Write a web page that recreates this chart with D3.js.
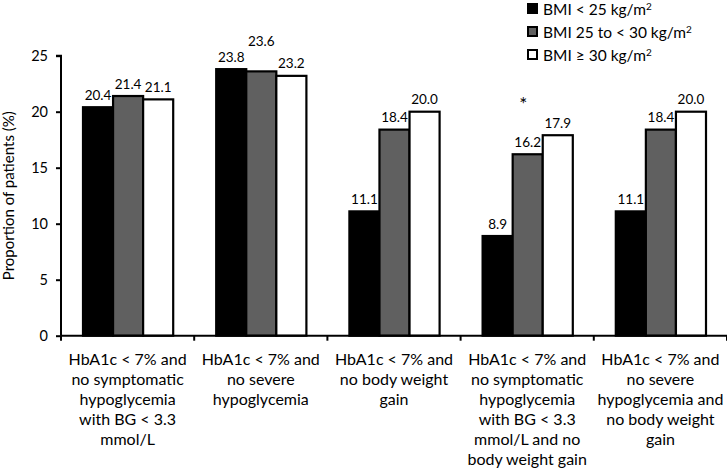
<!DOCTYPE html>
<html>
<head>
<meta charset="utf-8">
<script src="https://cdn.jsdelivr.net/npm/d3@7"></script>
<style>
  html, body { margin: 0; padding: 0; background: #fff; }
  svg { display: block; font-family: Lato, "Open Sans", sans-serif; }
</style>
</head>
<body>
<svg id="chart" width="727" height="474"></svg>
<script>
// ---- data ----
const categories = [
  ["HbA1c < 7% and", "no symptomatic", "hypoglycemia", "with BG < 3.3", "mmol/L"],
  ["HbA1c < 7% and", "no severe", "hypoglycemia"],
  ["HbA1c < 7% and", "no body weight", "gain"],
  ["HbA1c < 7% and", "no symptomatic", "hypoglycemia", "with BG < 3.3", "mmol/L and no", "body weight gain"],
  ["HbA1c < 7% and", "no severe", "hypoglycemia and", "no body weight", "gain"]
];
const seriesNames = ["BMI < 25 kg/m", "BMI 25 to < 30 kg/m", "BMI \u2265 30 kg/m"];
const bmiUnder25 = [20.4, 23.8, 11.1, 8.9, 11.1];
const bmi25to30 = [21.4, 23.6, 18.4, 16.2, 18.4];
const bmiOver30 = [21.1, 23.2, 20.0, 17.9, 20.0];
const seriesValues = [bmiUnder25, bmi25to30, bmiOver30];
const yTicks = [0, 5, 10, 15, 20, 25];
const significance = ["", "", "", "*", ""];

// ---- styling ----
const fills = ["#000000", "#606060", "#ffffff"];
const svg = d3.select("#chart");
const mLeft = 61, mRight = 727, mTop = 55.7, mBottom = 335.7;

const y = d3.scaleLinear().domain([0, 25]).range([mBottom, mTop]);
const x0 = d3.scaleBand().domain(d3.range(categories.length)).range([mLeft, mRight]).paddingInner(0).paddingOuter(0);
const x1 = d3.scaleBand().domain(d3.range(seriesValues.length)).range([22, x0.bandwidth() - 21]).padding(0);

// bars
const g = svg.append("g");
const groups = g.selectAll("g.grp").data(categories).join("g")
  .attr("transform", (d, i) => `translate(${x0(i)},0)`);

const barData = (ci) => seriesValues.map((s, si) => ({ ci, si, v: s[ci] }));

groups.selectAll("rect").data((d, ci) => barData(ci)).join("rect")
  .attr("x", d => x1(d.si))
  .attr("y", d => y(d.v))
  .attr("width", x1.bandwidth())
  .attr("height", d => y(0) - y(d.v))
  .attr("fill", d => fills[d.si])
  .attr("stroke", "#000")
  .attr("stroke-width", 2.2);

// value labels (with simple collision lift for the middle label when crowded)
groups.selectAll("text.val").data((d, ci) => barData(ci)).join("text")
  .attr("class", "val")
  .attr("x", d => x1(d.si) + x1.bandwidth() / 2)
  .attr("y", d => {
    let yy = y(d.v) - 7.5;
    if (d.si === 1) {
      const nb = [seriesValues[0][d.ci], seriesValues[2][d.ci]];
      const crowded = nb.every(v => Math.abs(y(v) - y(d.v)) < 8);
      if (crowded) yy = Math.min(...nb.map(v => y(v))) - 7.5 - 16;
    }
    return yy;
  })
  .attr("text-anchor", "middle")
  .attr("font-size", 13.5)
  .attr("fill", "#000")
  .text(d => d.v.toFixed(1));

// significance markers
groups.append("text")
  .attr("x", x0.bandwidth() / 2 - 4)
  .attr("y", (d, i) => y(d3.max(seriesValues, s => s[i])) - 24)
  .attr("text-anchor", "middle")
  .attr("font-size", 19)
  .text((d, i) => significance[i]);

// y axis
const yAxis = d3.axisLeft(y).tickValues(yTicks).tickSize(5).tickPadding(8).tickFormat(d3.format("d"));
const ya = svg.append("g").attr("transform", `translate(${mLeft},0)`).call(yAxis);
ya.select(".domain").attr("stroke", "#000").attr("stroke-width", 2).attr("d", `M-5,${mTop}H0V${mBottom}`);
ya.selectAll(".tick line").attr("stroke", "#000").attr("stroke-width", 2);
ya.selectAll(".tick text").attr("font-size", 14.5).attr("font-family", "Lato, sans-serif").attr("fill", "#000");

// x axis
const bounds = d3.range(categories.length + 1).map(i => mLeft + i * x0.step());
const xa = svg.append("g");
xa.append("line").attr("x1", mLeft).attr("x2", mRight).attr("y1", mBottom).attr("y2", mBottom)
  .attr("stroke", "#000").attr("stroke-width", 2);
xa.selectAll("line.tk").data(bounds).join("line").attr("class", "tk")
  .attr("x1", d => d).attr("x2", d => d).attr("y1", mBottom).attr("y2", mBottom + 5)
  .attr("stroke", "#000").attr("stroke-width", 2);

// category labels
const cl = svg.append("g");
categories.forEach((lines, i) => {
  const t = cl.append("text")
    .attr("x", x0(i) + x0.bandwidth() / 2)
    .attr("y", 365)
    .attr("text-anchor", "middle")
    .attr("font-size", 16)
    .attr("fill", "#000");
  lines.forEach((ln, k) => {
    t.append("tspan").attr("x", x0(i) + x0.bandwidth() / 2).attr("dy", k === 0 ? 0 : 20).text(ln);
  });
});

// y title
svg.append("text")
  .attr("transform", `translate(14,${(mTop + mBottom) / 2}) rotate(-90)`)
  .attr("text-anchor", "middle")
  .attr("font-size", 15)
  .text("Proportion of patients (%)");

// legend
const lg = svg.append("g");
const rowY = [9, 32, 55];
seriesNames.forEach((name, i) => {
  lg.append("rect").attr("x", 528).attr("y", rowY[i] - 5).attr("width", 9).attr("height", 9)
    .attr("fill", fills[i]).attr("stroke", "#000").attr("stroke-width", 2);
  const t = lg.append("text").attr("x", 543).attr("y", rowY[i] + 5.5).attr("font-size", 15.5);
  t.append("tspan").text(name);
  t.append("tspan").attr("dy", -5).attr("font-size", 10).text("2");
});
</script>
</body>
</html>
